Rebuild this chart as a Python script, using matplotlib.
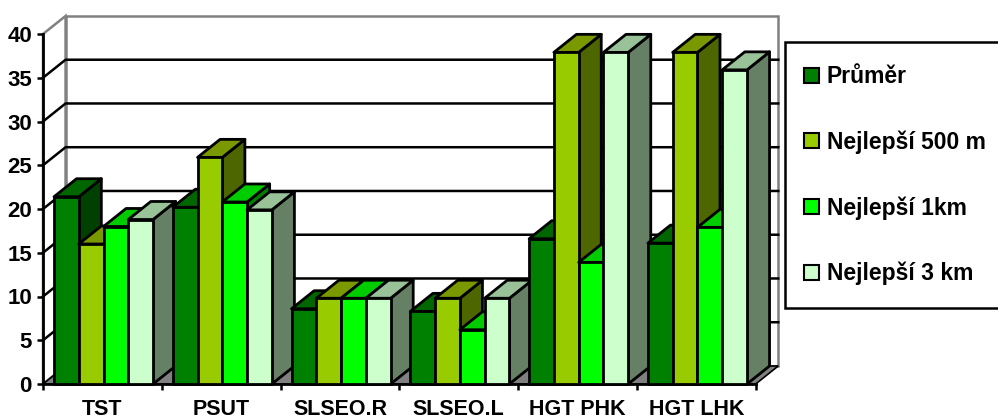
import matplotlib.pyplot as plt
from matplotlib.patches import Polygon, Patch, Rectangle

plt.rcParams['font.family'] = ['Liberation Sans', 'DejaVu Sans']
plt.rcParams['font.weight'] = 'bold'

categories = ['TST', 'PSUT', 'SLSEO.R', 'SLSEO.L', 'HGT PHK', 'HGT LHK']
series_names = ['Průměr', 'Nejlepší 500 m', 'Nejlepší 1km', 'Nejlepší 3 km']
prumer = [21.4, 20.2, 8.6, 8.3, 16.6, 16.1]
best_500m = [16.0, 25.9, 9.8, 9.8, 37.9, 37.9]
best_1km = [18.0, 20.8, 9.8, 6.2, 13.9, 17.9]
best_3km = [18.8, 19.9, 9.8, 9.8, 37.9, 35.9]
series = [prumer, best_500m, best_1km, best_3km]

# face colours: front / top / side (Excel style shading)
front_c = ['#008000', '#99cc00', '#00ff00', '#ccffcc']
top_c = ['#006600', '#7a9900', '#00cc00', '#99c299']
side_c = ['#004000', '#4d6600', '#008000', '#668066']

YMAX = 40
DX, DY = 0.19, 2.06      # depth of the 3d box, in data units
BAR_W = 0.2085
GAP0 = 0.0926

W, H = 998, 416
fig = plt.figure(figsize=(W / 100, H / 100), dpi=100)
ax = fig.add_axes([43 / W, 32 / H, 712.7 / W, 350 / H])
ax.set_xlim(0, len(categories))
ax.set_ylim(0, YMAX)
ax.patch.set_visible(False)

n = len(categories)

# walls and floor
ax.add_patch(Polygon([(DX, DY), (n + DX, DY), (n + DX, YMAX + DY), (DX, YMAX + DY)],
                     closed=True, fc='white', ec='#808080', lw=1.8, clip_on=False, zorder=0))
ax.add_patch(Polygon([(0, 0), (0, YMAX), (DX, YMAX + DY), (DX, DY)],
                     closed=True, fc='white', ec='#808080', lw=1.8, clip_on=False, zorder=0))
for y in range(5, YMAX, 5):
    ax.plot([0, DX, n + DX], [y, y + DY, y + DY], color='black', lw=1.8,
            clip_on=False, zorder=1)
ax.add_patch(Polygon([(0, 0), (n, 0), (n + DX, DY), (DX, DY)],
                     closed=True, fc='#808080', ec='black', lw=1.2, clip_on=False, zorder=1))

# bars, drawn left to right so each one hides the side of the previous
z = 3
for i in range(n):
    for j, vals in enumerate(series):
        v = vals[i]
        x0 = i + GAP0 + j * BAR_W
        x1 = x0 + BAR_W
        kw = dict(closed=True, ec='black', lw=2.0, clip_on=False, joinstyle='round')
        ax.add_patch(Polygon([(x1, 0), (x1 + DX, DY), (x1 + DX, v + DY), (x1, v)],
                             fc=side_c[j], zorder=z, **kw))
        ax.add_patch(Polygon([(x0, v), (x1, v), (x1 + DX, v + DY), (x0 + DX, v + DY)],
                             fc=top_c[j], zorder=z, **kw))
        ax.add_patch(Polygon([(x0, 0), (x1, 0), (x1, v), (x0, v)],
                             fc=front_c[j], zorder=z, **kw))
        z += 1

# axes
for s in ['top', 'right']:
    ax.spines[s].set_visible(False)
for s in ['left', 'bottom']:
    ax.spines[s].set_linewidth(2.0)
    ax.spines[s].set_color('black')
ax.set_yticks(range(0, YMAX + 1, 5))
ax.tick_params(axis='y', length=4, width=1.8, pad=4, labelsize=16)
ax.set_xticks(range(n + 1))
ax.set_xticklabels([])
ax.set_xticks([i + 0.5 for i in range(n)], minor=True)
ax.set_xticklabels(categories, minor=True)
ax.tick_params(axis='x', which='major', length=4, width=1.8)
ax.tick_params(axis='x', which='minor', length=0, pad=10.8, labelsize=15.5)

# legend box runs past the right edge of the figure
fig.patches.append(Rectangle((785 / W, 1 - 308.3 / H), 240 / W, 266.6 / H,
                             transform=fig.transFigure, fc='white', ec='black',
                             lw=1.8, zorder=5))
handles = [Patch(fc=front_c[j], ec='black', lw=1.5) for j in range(4)]
leg = fig.legend(handles, series_names, loc='upper left',
                 bbox_to_anchor=(804 / W, 1 - 65.2 / H), borderaxespad=0,
                 fontsize=16.5, handlelength=0.65, handleheight=0.65, handletextpad=0.35,
                 labelspacing=1.84, borderpad=0, frameon=False)
leg.set_zorder(6)

plt.savefig('out.png', dpi=100)
